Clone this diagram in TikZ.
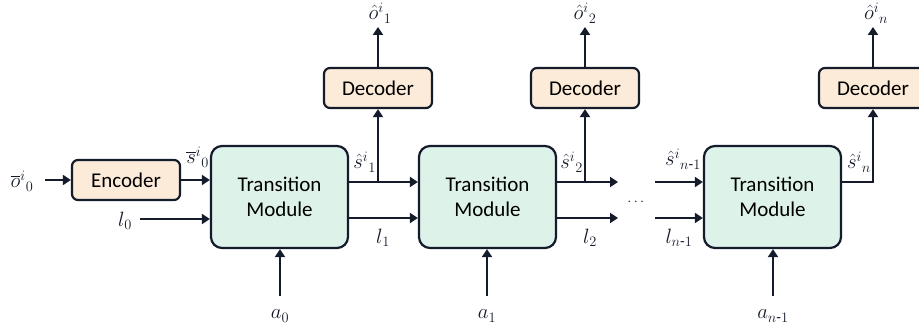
\documentclass[tikz,border=0pt]{standalone}
\usepackage{amsmath}
\usepackage{fontspec}
\setmainfont{Carlito}
\usetikzlibrary{arrows.meta}
\definecolor{edge}{HTML}{141B2B}
\definecolor{tmfill}{HTML}{DDF2E8}
\definecolor{codefill}{HTML}{FCEBD9}
\tikzset{
  tmbox/.style={draw=edge, line width=2.2pt, fill=tmfill, rounded corners=11pt, minimum width=137pt, minimum height=102pt, align=center, font=\fontsize{21}{25}\selectfont, inner sep=0pt},
  codebox/.style={draw=edge, line width=2.2pt, fill=codefill, rounded corners=6pt, minimum width=108pt, minimum height=40pt, font=\fontsize{21}{25}\selectfont, inner sep=0pt},
  arr/.style={draw=edge, line width=2pt, -{Triangle[length=8pt,width=10pt]}},
  lab/.style={font=\fontsize{22}{26}\selectfont, inner sep=0pt, text=edge}
}
\begin{document}
\begin{tikzpicture}[x=1pt,y=-1pt]
\useasboundingbox (0,0) rectangle (919,331);
% levels
\coordinate (ys) at (0,182);
\coordinate (yl) at (0,218);
% boxes
\node[codebox] (enc) at (126,180) {Encoder};
\node[tmbox] (tm1) at (279.5,197) {Transition\\Module};
\node[tmbox] (tm2) at (487.5,197) {Transition\\Module};
\node[tmbox] (tm3) at (772.5,197) {Transition\\Module};
\node[codebox] (dec1) at (378,88) {Decoder};
\node[codebox] (dec2) at (585,88) {Decoder};
\node[codebox] (dec3) at (873,88) {Decoder};
% free ends
\coordinate (oin) at (45,180);
\coordinate (l0s) at (140,219);
\coordinate (a0s) at (280,296);
\coordinate (a1s) at (487,296);
\coordinate (a2s) at (773,296);
\coordinate (o1e) at (378,27);
\coordinate (o2e) at (585,27);
\coordinate (o3e) at (873,27);
\coordinate (s2e) at (618,182);
\coordinate (l2e) at (618,218);
\coordinate (s3s) at (655,182);
\coordinate (l3s) at (655,218);
% connectors
\draw[arr] (oin) -- (enc.west);
\draw[arr] (enc.east) -- (enc.east -| tm1.west);
\draw[arr] (l0s) -- (l0s -| tm1.west);
\draw[arr] (tm1.east |- ys) -- (tm2.west |- ys);
\draw[arr] (tm1.east |- yl) -- (tm2.west |- yl);
\draw[arr] (dec1.south |- ys) -- (dec1.south);
\draw[arr] (dec1.north) -- (o1e);
\draw[arr] (tm2.east |- ys) -- (s2e);
\draw[arr] (tm2.east |- yl) -- (l2e);
\draw[arr] (dec2.south |- ys) -- (dec2.south);
\draw[arr] (dec2.north) -- (o2e);
\draw[arr] (s3s) -- (s3s -| tm3.west);
\draw[arr] (l3s) -- (l3s -| tm3.west);
\draw[arr] (tm3.east |- ys) -| (dec3.south);
\draw[arr] (dec3.north) -- (o3e);
\draw[arr] (a0s) -- (a0s |- tm1.south);
\draw[arr] (a1s) -- (a1s |- tm2.south);
\draw[arr] (a2s) -- (a2s |- tm3.south);
% labels
\node[lab] (lo0) at (22,181) {$\overline{o}^{i}{}_{0}$};
\node[lab, anchor=east] (ls0) at (209,157) {$\overline{s}^{i}{}_{0}$};
\node[lab] (ll0) at (125,221) {$l_{0}$};
\node[lab, anchor=east] (ls1) at (376,162) {$\hat{s}^{i}{}_{1}$};
\node[lab] (ll1) at (383,238) {$l_{1}$};
\node[lab] (lo1) at (380,13) {$\hat{o}^{i}{}_{1}$};
\node[lab] (la0) at (280,316) {$a_{0}$};
\node[lab, anchor=east] (ls2) at (583,162) {$\hat{s}^{i}{}_{2}$};
\node[lab] (ll2) at (590,238) {$l_{2}$};
\node[lab] (lo2) at (585,13) {$\hat{o}^{i}{}_{2}$};
\node[lab] (la1) at (487,316) {$a_{1}$};
\node[lab, font=\fontsize{15}{18}\selectfont] (dots) at (637,202) {$\cdots$};
\node[lab, anchor=east] (ls3) at (701,159) {$\hat{s}^{i}{}_{n\text{-}1}$};
\node[lab] (ll3) at (679,238) {$l_{n\text{-}1}$};
\node[lab, anchor=east] (ls4) at (871,162) {$\hat{s}^{i}{}_{n}$};
\node[lab] (lo3) at (876,13) {$\hat{o}^{i}{}_{n}$};
\node[lab] (la2) at (773,316) {$a_{n\text{-}1}$};
\end{tikzpicture}
\end{document}
